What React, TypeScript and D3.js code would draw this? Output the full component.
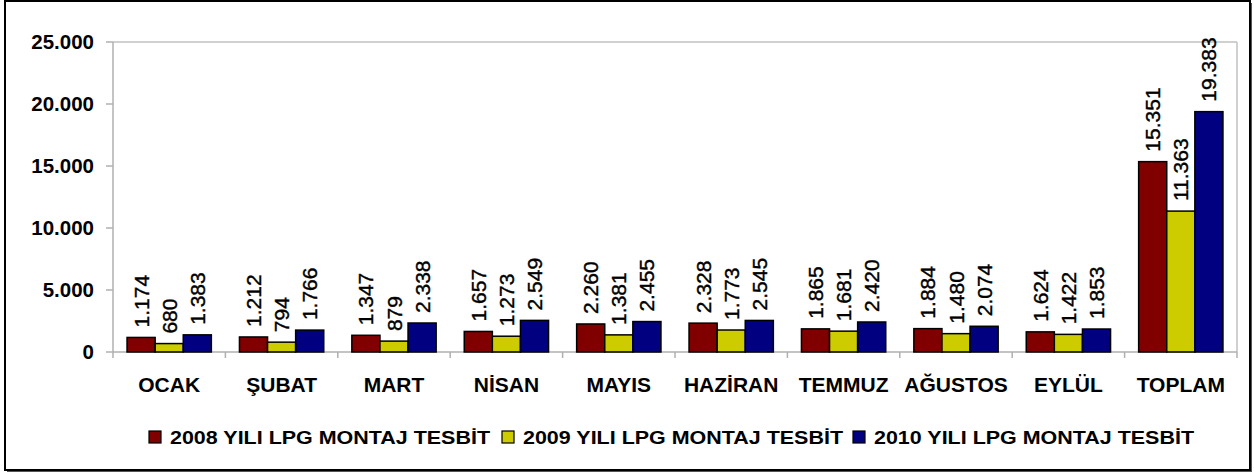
import React from "react";
import * as d3 from "d3";

const categories = ["OCAK", "ŞUBAT", "MART", "NİSAN", "MAYIS", "HAZİRAN", "TEMMUZ", "AĞUSTOS", "EYLÜL", "TOPLAM"];
const series2008 = [1174, 1212, 1347, 1657, 2260, 2328, 1865, 1884, 1624, 15351];
const series2009 = [680, 794, 879, 1273, 1381, 1773, 1681, 1480, 1422, 11363];
const series2010 = [1383, 1766, 2338, 2549, 2455, 2545, 2420, 2074, 1853, 19383];
const seriesNames = ["2008 YILI LPG MONTAJ TESBİT", "2009 YILI LPG MONTAJ TESBİT", "2010 YILI LPG MONTAJ TESBİT"];
const seriesColors = ["#800000", "#CCCC00", "#000080"];
const yTicks = [0, 5000, 10000, 15000, 20000, 25000];

const W = 1254;
const H = 474;
const plot = { left: 113, right: 1237, top: 42, bottom: 352 };
const FONT = "'Liberation Sans', Arial, sans-serif";

const fmt = (v: number) => d3.format(",")(v).replace(/,/g, ".");

export default function App() {
  const allSeries = [series2008, series2009, series2010];
  const x = d3.scaleBand<string>().domain(categories).range([plot.left, plot.right]).paddingInner(0).paddingOuter(0);
  const bw = x.bandwidth() / 4;
  const y = d3.scaleLinear().domain([0, 25000]).range([plot.bottom, plot.top]);
  const legendX = [149, 502, 853];

  return (
    <svg width={W} height={H} style={{ position: "absolute", left: 0, top: 0, background: "#fff" }} fontFamily={FONT}>
      {/* frame with shadow */}
      <rect x={7} y={3} width={1245} height={469} fill="#555" />
      <rect x={5} y={1} width={1245} height={469} fill="#fff" stroke="#000" strokeWidth={2} />
      {/* plot border */}
      <line x1={plot.left} x2={plot.right} y1={plot.top} y2={plot.top} stroke="#c0c0c0" strokeWidth={1.5} />
      <line x1={plot.right} x2={plot.right} y1={plot.top} y2={plot.bottom} stroke="#c0c0c0" strokeWidth={1.5} />
      {/* y axis */}
      <line x1={plot.left} x2={plot.left} y1={plot.top} y2={plot.bottom + 6} stroke="#b0b0b0" strokeWidth={1.5} />
      {yTicks.map((t) => (
        <g key={t}>
          <line x1={plot.left - 7} x2={plot.left} y1={y(t)} y2={y(t)} stroke="#b0b0b0" strokeWidth={1.5} />
          <text x={94} y={y(t)} dy="0.35em" textAnchor="end" fontSize={20.5} fontWeight="bold" fill="#000">
            {fmt(t)}
          </text>
        </g>
      ))}
      {/* x axis */}
      <line x1={plot.left} x2={plot.right} y1={plot.bottom} y2={plot.bottom} stroke="#b0b0b0" strokeWidth={1.5} />
      {categories.map((c, i) => (
        <line key={"t" + i} x1={(x(c) as number) + x.bandwidth()} x2={(x(c) as number) + x.bandwidth()} y1={plot.bottom} y2={plot.bottom + 6} stroke="#b0b0b0" strokeWidth={1.5} />
      ))}
      {categories.map((c) => (
        <text key={"c" + c} x={(x(c) as number) + x.bandwidth() / 2} y={392} textAnchor="middle" fontSize={21} fontWeight="bold" fill="#000">
          {c}
        </text>
      ))}
      {/* bars */}
      {allSeries.map((s, si) =>
        s.map((v, i) => {
          const bx = (x(categories[i]) as number) + bw / 2 + si * bw;
          return (
            <rect key={si + "-" + i} x={bx} y={y(v)} width={bw} height={plot.bottom - y(v)} fill={seriesColors[si]} stroke="#000" strokeWidth={1.5} />
          );
        })
      )}
      {/* labels */}
      {allSeries.map((s, si) =>
        s.map((v, i) => {
          const cx = (x(categories[i]) as number) + bw / 2 + si * bw + bw / 2;
          const ty = y(v) - 10;
          return (
            <text key={"l" + si + "-" + i} transform={`translate(${cx},${ty}) rotate(-90)`} dy="0.36em" fontSize={21} fill="#000" stroke="#000" strokeWidth={0.4}>
              {fmt(v)}
            </text>
          );
        })
      )}
      {/* legend */}
      {seriesNames.map((n, i) => (
        <g key={n}>
          <rect x={legendX[i]} y={431} width={12} height={12} fill={seriesColors[i]} stroke="#000" strokeWidth={1.2} />
          <text x={legendX[i] + 21} y={437} dy="0.35em" fontSize={19} fontWeight="bold" fill="#000" textLength={320} lengthAdjust="spacingAndGlyphs">
            {n}
          </text>
        </g>
      ))}
    </svg>
  );
}
